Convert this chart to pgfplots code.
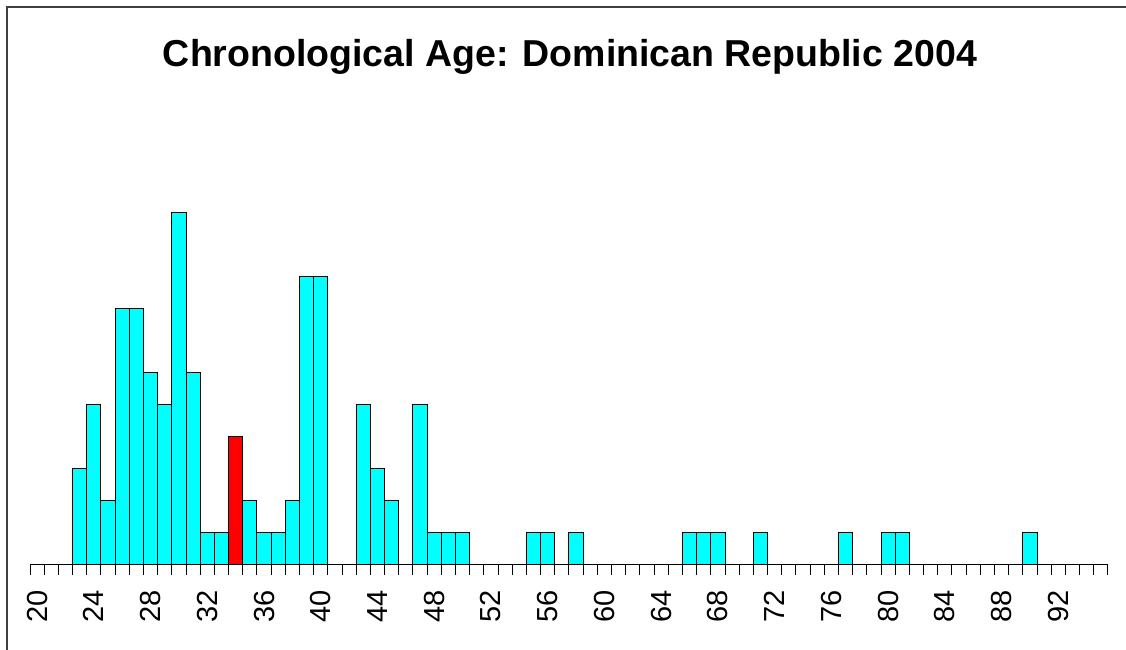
\documentclass[border=0pt]{standalone}
\usepackage{fontspec}
\setmainfont{Liberation Sans}
\usepackage{pgfplots}
\pgfplotsset{compat=1.18}
\definecolor{rcyan}{RGB}{0,255,255}
\definecolor{rred}{RGB}{255,0,0}
\begin{document}
\begin{tikzpicture}[x=1pt,y=1pt]
\useasboundingbox (0,0) rectangle (675.6,390);
\draw[line width=1.2pt, black!75] (4.2,0) -- (4.2,385.8) -- (675.6,385.8);
\node[anchor=center, font=\fontsize{22.5pt}{27pt}\selectfont\bfseries] at (342,355.8) {Chronological Age: Dominican Republic 2004};
\begin{axis}[
  at={(18pt,51pt)}, anchor=south west,
  scale only axis, width=646.8pt, height=211.2pt,
  xmin=19.5, xmax=95.5, ymin=0, ymax=11,
  enlargelimits=false, clip=false,
  axis x line*=bottom, axis y line=none,
  axis line style={black, line width=0.6pt},
  xtick={20,24,...,92},
  minor xtick={19.5,20.5,...,95.5},
  major tick length=0pt, minor tick length=6pt,
  tick align=outside,
  tick style={black, line width=0.6pt},
  /pgf/number format/assume math mode=true,
  xticklabel style={rotate=90, anchor=east, inner sep=0pt, font=\fontsize{17.4pt}{20pt}\selectfont},
  xticklabel shift=15pt,
]
\addplot[ybar, bar width=1, bar shift=0pt, fill=rcyan, draw=black, line width=0.6pt] coordinates {
(23,3) (24,5) (25,2) (26,8) (27,8) (28,6) (29,5) (30,11) (31,6) (32,1) (33,1)
(35,2) (36,1) (37,1) (38,2) (39,9) (40,9)
(43,5) (44,3) (45,2) (47,5) (48,1) (49,1) (50,1)
(55,1) (56,1) (58,1) (66,1) (67,1) (68,1) (71,1) (77,1) (80,1) (81,1) (90,1)
};
\addplot[ybar, bar width=1, bar shift=0pt, fill=rred, draw=black, line width=0.6pt] coordinates {(34,4)};
\end{axis}
\end{tikzpicture}
\end{document}
